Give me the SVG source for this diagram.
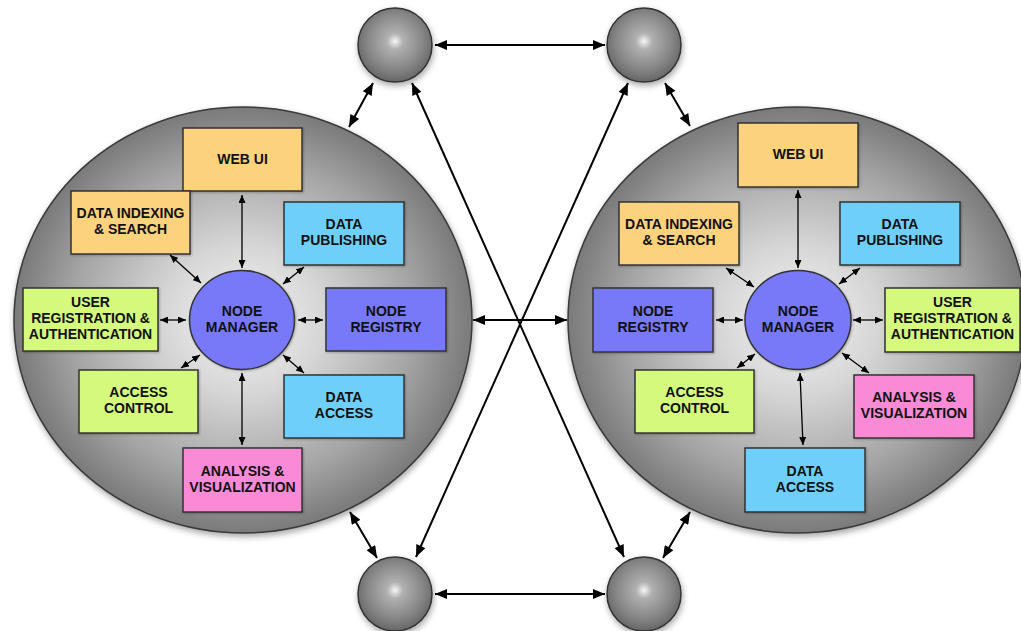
<svg xmlns="http://www.w3.org/2000/svg" width="1021" height="631" viewBox="0 0 1021 631">
  <defs>
    <radialGradient id="bigGrad" cx="0.5" cy="0.5" r="0.5">
      <stop offset="0" stop-color="#f4f4f4"/>
      <stop offset="0.35" stop-color="#d6d6d6"/>
      <stop offset="0.75" stop-color="#a4a4a4"/>
      <stop offset="1" stop-color="#7a7a7a"/>
    </radialGradient>
    <radialGradient id="ballGrad" cx="0.5" cy="0.45" r="0.55">
      <stop offset="0" stop-color="#f6f6f6"/>
      <stop offset="0.2" stop-color="#b0b0b0"/>
      <stop offset="0.7" stop-color="#858585"/>
      <stop offset="1" stop-color="#666"/>
    </radialGradient>
    <filter id="shadow" x="-10%" y="-10%" width="120%" height="125%">
      <feDropShadow dx="1" dy="3" stdDeviation="3" flood-color="#000" flood-opacity="0.35"/>
    </filter>
    <filter id="boxShadow" x="-10%" y="-10%" width="125%" height="130%">
      <feDropShadow dx="1" dy="1" stdDeviation="1" flood-color="#000" flood-opacity="0.25"/>
    </filter>
    <marker id="bigHead" viewBox="0 0 12 10" refX="12" refY="5" markerWidth="13" markerHeight="10" markerUnits="userSpaceOnUse" orient="auto-start-reverse">
      <path d="M0,0 L12,5 L0,10 Z" fill="#000"/>
    </marker>
    <marker id="smallHead" viewBox="0 0 8 7" refX="8" refY="3.5" markerWidth="8" markerHeight="7" markerUnits="userSpaceOnUse" orient="auto-start-reverse">
      <path d="M0,0 L8,3.5 L0,7 Z" fill="#000"/>
    </marker>
  </defs>
  <style>
    .big { fill: url(#bigGrad); stroke: #3a3a3a; stroke-width: 1.5; filter: url(#shadow); }
    .ball { fill: url(#ballGrad); stroke: #333; stroke-width: 1.5; filter: url(#shadow); }
    .box { stroke: #333; stroke-width: 1.5; filter: url(#boxShadow); }
    .orange { fill: #fdd27c; }
    .blue { fill: #6ed0fa; }
    .green { fill: #d5f97c; }
    .violet { fill: #7779f8; }
    .pink { fill: #f98ad6; }
    text { font-family: "Liberation Sans", Arial, sans-serif; font-weight: bold; font-size: 14px; fill: #111; text-anchor: middle; }
    .ext { stroke: #000; stroke-width: 2; fill: none; marker-start: url(#bigHead); marker-end: url(#bigHead); }
    .int { stroke: #000; stroke-width: 1.3; fill: none; marker-start: url(#smallHead); marker-end: url(#smallHead); }
  </style>

  <!-- outer site circles -->
  <g id="site-left">
    <ellipse class="big" cx="243" cy="320" rx="229" ry="213"/>
  </g>
  <g id="site-right">
    <ellipse class="big" cx="797" cy="320" rx="229" ry="213"/>
  </g>

  <!-- small peer spheres -->
  <g id="peer-top-left"><circle class="ball" cx="395" cy="45" r="37"/></g>
  <g id="peer-top-right"><circle class="ball" cx="644" cy="45" r="37"/></g>
  <g id="peer-bottom-left"><circle class="ball" cx="395" cy="594" r="37"/></g>
  <g id="peer-bottom-right"><circle class="ball" cx="644" cy="594" r="37"/></g>

  <!-- left site components -->
  <g id="l-webui"><rect class="box orange" x="183" y="128" width="119" height="63"/><text x="242.5" y="164">WEB UI</text></g>
  <g id="l-indexing"><rect class="box orange" x="71" y="191" width="119" height="63"/><text x="130.5" y="218">DATA INDEXING</text><text x="130.5" y="234">&amp; SEARCH</text></g>
  <g id="l-publishing"><rect class="box blue" x="284" y="202" width="120" height="63"/><text x="344" y="229">DATA</text><text x="344" y="245">PUBLISHING</text></g>
  <g id="l-userreg"><rect class="box green" x="23" y="288" width="135" height="63"/><text x="90.5" y="307">USER</text><text x="90.5" y="323">REGISTRATION &amp;</text><text x="90.5" y="339">AUTHENTICATION</text></g>
  <g id="l-registry"><rect class="box violet" x="326" y="288" width="120" height="63"/><text x="386" y="316">NODE</text><text x="386" y="332">REGISTRY</text></g>
  <g id="l-manager"><ellipse class="box violet" cx="242" cy="320" rx="52.5" ry="49.5"/><text x="242" y="316">NODE</text><text x="242" y="332">MANAGER</text></g>
  <g id="l-access-control"><rect class="box green" x="79" y="370" width="119" height="63"/><text x="138.5" y="397">ACCESS</text><text x="138.5" y="413">CONTROL</text></g>
  <g id="l-data-access"><rect class="box blue" x="284" y="375" width="120" height="63"/><text x="344" y="402">DATA</text><text x="344" y="418">ACCESS</text></g>
  <g id="l-analysis"><rect class="box pink" x="183" y="448" width="119" height="64"/><text x="242.5" y="476">ANALYSIS &amp;</text><text x="242.5" y="492">VISUALIZATION</text></g>

  <!-- right site components -->
  <g id="r-webui"><rect class="box orange" x="738" y="123" width="120" height="64"/><text x="798" y="159">WEB UI</text></g>
  <g id="r-indexing"><rect class="box orange" x="619" y="202" width="120" height="63"/><text x="679" y="229">DATA INDEXING</text><text x="679" y="245">&amp; SEARCH</text></g>
  <g id="r-publishing"><rect class="box blue" x="840" y="202" width="120" height="63"/><text x="900" y="229">DATA</text><text x="900" y="245">PUBLISHING</text></g>
  <g id="r-registry"><rect class="box violet" x="593" y="288" width="120" height="64"/><text x="653" y="316">NODE</text><text x="653" y="332">REGISTRY</text></g>
  <g id="r-manager"><ellipse class="box violet" cx="798" cy="320" rx="53" ry="49.5"/><text x="798" y="316">NODE</text><text x="798" y="332">MANAGER</text></g>
  <g id="r-userreg"><rect class="box green" x="885" y="288" width="135" height="64"/><text x="952.5" y="307">USER</text><text x="952.5" y="323">REGISTRATION &amp;</text><text x="952.5" y="339">AUTHENTICATION</text></g>
  <g id="r-access-control"><rect class="box green" x="635" y="370" width="119" height="63"/><text x="694.5" y="397">ACCESS</text><text x="694.5" y="413">CONTROL</text></g>
  <g id="r-analysis"><rect class="box pink" x="854" y="375" width="120" height="63"/><text x="914" y="402">ANALYSIS &amp;</text><text x="914" y="418">VISUALIZATION</text></g>
  <g id="r-data-access"><rect class="box blue" x="745" y="448" width="120" height="64"/><text x="805" y="476">DATA</text><text x="805" y="492">ACCESS</text></g>

  <!-- connectors -->
  <g id="connectors">
    <!-- between peers and sites -->
    <line class="ext" x1="435" y1="45" x2="605" y2="45"/>
    <line class="ext" x1="435" y1="594" x2="605" y2="594"/>
    <line class="ext" x1="473" y1="320" x2="567" y2="320"/>
    <line class="ext" x1="373" y1="83" x2="349" y2="127"/>
    <line class="ext" x1="665" y1="83" x2="690" y2="126"/>
    <line class="ext" x1="350" y1="512" x2="377" y2="558"/>
    <line class="ext" x1="690" y1="512" x2="663" y2="558"/>
    <line class="ext" x1="412" y1="83" x2="624" y2="557"/>
    <line class="ext" x1="628" y1="83" x2="416" y2="557"/>

    <!-- left site internal links -->
    <line class="int" x1="242" y1="195" x2="242" y2="268"/>
    <line class="int" x1="242" y1="373" x2="242" y2="445"/>
    <line class="int" x1="170" y1="255" x2="201" y2="283"/>
    <line class="int" x1="304" y1="267" x2="283" y2="284"/>
    <line class="int" x1="160" y1="320" x2="186" y2="320"/>
    <line class="int" x1="298" y1="320" x2="323" y2="320"/>
    <line class="int" x1="200" y1="355" x2="181" y2="368"/>
    <line class="int" x1="283" y1="355" x2="304" y2="373"/>

    <!-- right site internal links -->
    <line class="int" x1="798" y1="190" x2="798" y2="268"/>
    <line class="int" x1="800" y1="373" x2="803" y2="445"/>
    <line class="int" x1="726" y1="268" x2="754" y2="287"/>
    <line class="int" x1="860" y1="268" x2="839" y2="284"/>
    <line class="int" x1="716" y1="320" x2="743" y2="320"/>
    <line class="int" x1="853" y1="320" x2="883" y2="320"/>
    <line class="int" x1="755" y1="354" x2="737" y2="368"/>
    <line class="int" x1="842" y1="353" x2="869" y2="373"/>
  </g>
</svg>
